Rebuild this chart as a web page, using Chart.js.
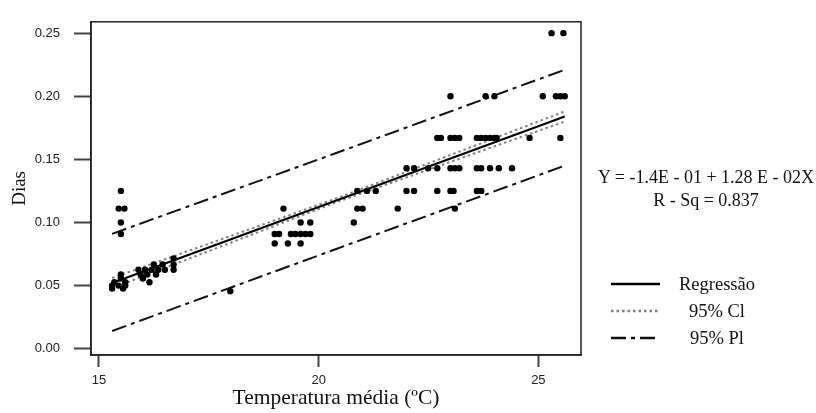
<!DOCTYPE html>
<html>
<head>
<meta charset="utf-8">
<script src="https://cdn.jsdelivr.net/npm/chart.js@4/dist/chart.umd.min.js"></script>
<style>
  body { margin: 0; background: #fff; }
  #wrap { position: relative; width: 816px; height: 413px; }
  #chart { position: absolute; left: 0; top: 0; }
  .txt {
    position: absolute;
    font-family: "Liberation Serif", "Times New Roman", serif;
    color: #111;
    white-space: nowrap;
    transform: translate(-50%, -50%);
    line-height: 1;
  }
</style>
</head>
<body>
<div id="wrap">
  <canvas id="chart" width="816" height="413"></canvas>
  <div class="txt" id="eq1" style="left:706px; top:177px; font-size:18px;"></div>
  <div class="txt" id="eq2" style="left:706px; top:200px; font-size:18px;"></div>
  <div class="txt" id="leg0" style="left:717px; top:284px; font-size:18.5px;"></div>
  <div class="txt" id="leg1" style="left:717px; top:311px; font-size:18.5px;"></div>
  <div class="txt" id="leg2" style="left:717px; top:338px; font-size:18.5px;"></div>
</div>
<script>
// observed points (temperature, 1/days)
const tempObs = [
  15.3, 15.3, 15.35, 15.45, 15.5, 15.5, 15.55, 15.6, 15.6, 15.9, 15.95, 16.0, 16.05, 16.1, 16.15, 16.2, 16.25, 16.3, 16.35, 16.45, 16.5, 16.7, 16.7, 16.7,
  15.5, 15.45, 15.58, 15.5, 15.5,
  17.99,
  19.0, 19.1, 19.37, 19.47, 19.59, 19.7, 19.81,
  19.0, 19.3, 19.59,
  19.59, 19.81, 20.8,
  19.2, 20.88, 21.0, 21.8, 23.1,
  20.88, 21.1, 21.3, 22.0, 22.17, 22.7, 23.0, 23.07, 23.6, 23.7,
  22.0, 22.17, 22.49, 22.7, 23.0, 23.1, 23.2, 23.6, 23.7, 23.9, 24.1, 24.4,
  22.7, 22.78, 23.0, 23.1, 23.2, 23.6, 23.7, 23.8, 23.9, 24.0, 24.05, 24.8, 25.5,
  23.0, 23.8, 24.0, 25.1, 25.4, 25.5, 25.6,
  25.3, 25.57
];
const diasObs = [
  0.05, 0.0476, 0.0526, 0.05, 0.0556, 0.0588, 0.0476, 0.05, 0.0526, 0.0625, 0.0588, 0.0556, 0.0625, 0.0588, 0.0526, 0.0625, 0.0667, 0.0588, 0.0625, 0.0667, 0.0625, 0.0714, 0.0667, 0.0625,
  0.125, 0.111, 0.111, 0.1, 0.0909,
  0.0455,
  0.0909, 0.0909, 0.0909, 0.0909, 0.0909, 0.0909, 0.0909,
  0.0833, 0.0833, 0.0833,
  0.1, 0.1, 0.1,
  0.111, 0.111, 0.111, 0.111, 0.111,
  0.125, 0.125, 0.125, 0.125, 0.125, 0.125, 0.125, 0.125, 0.125, 0.125,
  0.143, 0.143, 0.143, 0.143, 0.143, 0.143, 0.143, 0.143, 0.143, 0.143, 0.143, 0.143,
  0.167, 0.167, 0.167, 0.167, 0.167, 0.167, 0.167, 0.167, 0.167, 0.167, 0.167, 0.167, 0.167,
  0.2, 0.2, 0.2, 0.2, 0.2, 0.2, 0.2,
  0.25, 0.25
];

// fitted line and bands
const fitX = [15.3, 25.6];
const fitY = [0.052, 0.184];
const bandX = [15.3, 20.4, 25.6];
const ciUpper = [0.056, 0.119, 0.188];
const ciLower = [0.048, 0.116, 0.180];
const piUpper = [0.091, 0.155, 0.221];
const piLower = [0.014, 0.079, 0.145];

const xTicks = [15, 20, 25];
const yTicks = [0, 0.05, 0.10, 0.15, 0.20, 0.25];

const eqLines = ['Y = -1.4E - 01 + 1.28 E - 02X', 'R - Sq = 0.837'];
const legendLabels = ['Regressão', '95% Cl', '95% Pl'];

document.getElementById('eq1').textContent = eqLines[0];
document.getElementById('eq2').textContent = eqLines[1];
legendLabels.forEach((t, i) => {
  document.getElementById('leg' + i).textContent = t;
});

const pts = (xs, ys) => xs.map((x, i) => ({ x, y: ys[i] }));

const dashDot = [15, 5, 4, 5];
const dotted = [2.5, 3];

// box around plot + legend samples
const framePlugin = {
  id: 'frame',
  afterDraw(chart) {
    const { ctx, chartArea: a } = chart;
    ctx.save();
    ctx.strokeStyle = '#222';
    ctx.lineWidth = 1.5;
    ctx.strokeRect(a.left, a.top, a.right - a.left, a.bottom - a.top);

    const samples = [chart.data.datasets[1], chart.data.datasets[2], chart.data.datasets[4]];
    const ys = [284, 311, 338];
    samples.forEach((ds, i) => {
      ctx.beginPath();
      ctx.strokeStyle = ds.borderColor;
      ctx.lineWidth = ds.borderWidth + 0.5;
      ctx.setLineDash(ds.borderDash || []);
      ctx.moveTo(611, ys[i]);
      ctx.lineTo(660, ys[i]);
      ctx.stroke();
    });
    ctx.restore();
  }
};

new Chart(document.getElementById('chart'), {
  type: 'scatter',
  data: {
    datasets: [
      {
        label: 'Obs',
        data: pts(tempObs, diasObs),
        backgroundColor: '#000',
        borderColor: '#000',
        pointRadius: 3.2,
        pointBorderWidth: 0
      },
      {
        label: legendLabels[0],
        data: pts(fitX, fitY),
        showLine: true,
        borderColor: '#000',
        borderWidth: 2.2,
        pointRadius: 0
      },
      {
        label: legendLabels[1],
        data: pts(bandX, ciUpper),
        showLine: true,
        borderColor: '#808080',
        borderWidth: 2,
        borderDash: dotted,
        pointRadius: 0
      },
      {
        label: legendLabels[1] + ' low',
        data: pts(bandX, ciLower),
        showLine: true,
        borderColor: '#808080',
        borderWidth: 2,
        borderDash: dotted,
        pointRadius: 0
      },
      {
        label: legendLabels[2],
        data: pts(bandX, piUpper),
        showLine: true,
        borderColor: '#111',
        borderWidth: 2,
        borderDash: dashDot,
        pointRadius: 0
      },
      {
        label: legendLabels[2] + ' low',
        data: pts(bandX, piLower),
        showLine: true,
        borderColor: '#111',
        borderWidth: 2,
        borderDash: dashDot,
        pointRadius: 0
      }
    ]
  },
  options: {
    responsive: false,
    animation: false,
    layout: { padding: { top: 13, right: 235, left: 0, bottom: 0 } },
    plugins: {
      legend: { display: false },
      tooltip: { enabled: false }
    },
    scales: {
      x: {
        type: 'linear',
        min: 14.82,
        max: 25.97,
        afterFit: s => { s.height = 58; },
        afterBuildTicks: s => { s.ticks = xTicks.map(v => ({ value: v })); },
        grid: { drawOnChartArea: false, tickLength: 12, tickColor: '#444', tickWidth: 2 },
        border: { display: true, color: '#222', width: 1.5 },
        ticks: {
          padding: 6,
          color: '#222',
          font: { family: 'Liberation Sans, Arial, sans-serif', size: 13 }
        },
        title: {
          display: true,
          text: 'Temperatura média (ºC)',
          color: '#111',
          padding: { top: 0, bottom: 2 },
          font: { family: 'Liberation Serif, Times New Roman, serif', size: 21.5 }
        }
      },
      y: {
        type: 'linear',
        min: -0.005,
        max: 0.259,
        afterFit: s => { s.width = 91; },
        afterBuildTicks: s => { s.ticks = yTicks.map(v => ({ value: v })); },
        grid: { drawOnChartArea: false, tickLength: 17, tickColor: '#444', tickWidth: 2 },
        border: { display: true, color: '#222', width: 1.5 },
        ticks: {
          padding: 14,
          color: '#222',
          font: { family: 'Liberation Sans, Arial, sans-serif', size: 13 },
          callback: v => v.toFixed(2)
        },
        title: {
          display: true,
          text: 'Dias',
          color: '#111',
          padding: { top: 9, bottom: 0 },
          font: { family: 'Liberation Serif, Times New Roman, serif', size: 19 }
        }
      }
    }
  },
  plugins: [framePlugin]
});
</script>
</body>
</html>
